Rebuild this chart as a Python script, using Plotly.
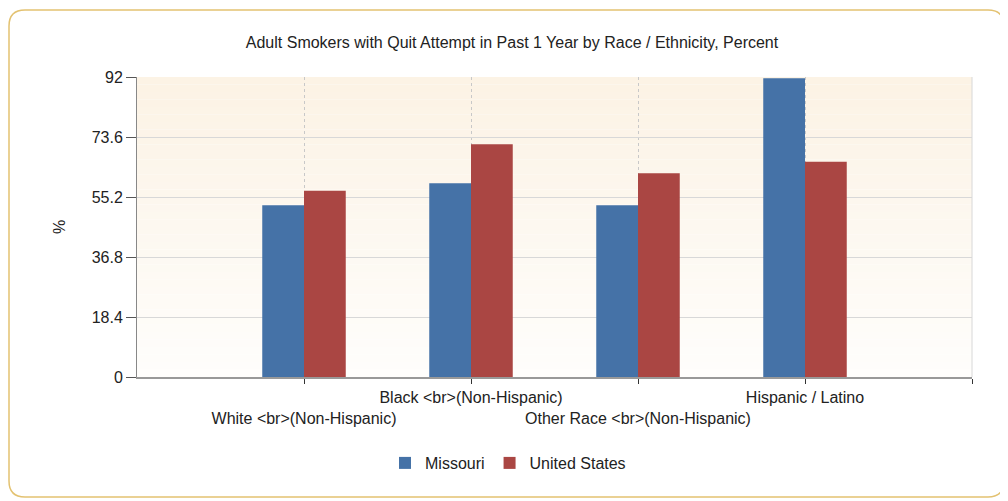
import plotly.graph_objects as go
import numpy as np

categories = ["White &lt;br&gt;(Non-Hispanic)", "Black &lt;br&gt;(Non-Hispanic)",
              "Other Race &lt;br&gt;(Non-Hispanic)", "Hispanic / Latino"]
missouri = [52.7, 59.4, 52.7, 91.6]
united_states = [57.1, 71.4, 62.5, 66.0]
y_ticks = [0, 18.4, 36.8, 55.2, 73.6, 92]
y_ticktext = ["0", "18.4", "36.8", "55.2", "73.6", "92"]

# the page body has an 8px margin, so the figure starts at (8, 8) on screen
OFF = 8
W, H = 1008 - OFF, 501 - OFF
L, R, T, B = 137 - OFF, 36, 77 - OFF, 124
pw, ph = W - L - R, H - T - B

xpos = list(np.arange(1, len(categories) + 1))
# stagger labels: first and third lower
ticktext = [("<br>" + c) if i % 2 == 0 else c for i, c in enumerate(categories)] + [""]
tickvals = xpos + [len(categories) + 1]

fig = go.Figure()
fig.add_trace(go.Bar(x=xpos, y=missouri, name="Missouri", marker_color="#4572A7",
                     marker_line_width=0))
fig.add_trace(go.Bar(x=xpos, y=united_states, name="United States", marker_color="#AA4643",
                     marker_line_width=0))

shapes = []
# gradient plot background
n = 40
top = np.array([252, 243, 229])
bot = np.array([255, 254, 252])
for i in range(n):
    f = i / (n - 1)
    c = top * (1 - f) + bot * f
    shapes.append(dict(type="rect", xref="x domain", yref="y domain",
                       x0=0, x1=1, y0=1 - (i + 1) / n, y1=1 - i / n,
                       fillcolor="rgb(%d,%d,%d)" % tuple(c.astype(int)),
                       line_width=0, layer="below"))

# rounded border (screen pixel -> paper)
def px(x):
    return (x - OFF - L) / pw

def py(y):
    return (H - B - (y - OFF)) / ph

x0, y0, x1, y1, r = 9, 10, 1004, 497, 16
path = (f"M {px(x0 + r)} {py(y0)} L {px(x1 - r)} {py(y0)} "
        f"Q {px(x1)} {py(y0)} {px(x1)} {py(y0 + r)} "
        f"L {px(x1)} {py(y1 - r)} Q {px(x1)} {py(y1)} {px(x1 - r)} {py(y1)} "
        f"L {px(x0 + r)} {py(y1)} Q {px(x0)} {py(y1)} {px(x0)} {py(y1 - r)} "
        f"L {px(x0)} {py(y0 + r)} Q {px(x0)} {py(y0)} {px(x0 + r)} {py(y0)} Z")
shapes.append(dict(type="path", xref="paper", yref="paper", path=path,
                   line=dict(color="#E3C271", width=1.5), layer="below"))

fig.update_layout(
    width=W, height=H,
    margin=dict(l=L, r=R, t=T, b=B, autoexpand=False),
    paper_bgcolor="white",
    plot_bgcolor="rgba(0,0,0,0)",
    barmode="group", bargap=0.5, bargroupgap=0,
    shapes=shapes,
    font=dict(family="Liberation Sans, Arial, sans-serif", color="#222222"),
    title=dict(text="Adult Smokers with Quit Attempt in Past 1 Year by Race / Ethnicity, Percent",
               x=(512 - OFF) / W, xref="container", xanchor="center",
               y=1 - (42 - OFF) / H, yref="container", yanchor="middle",
               font=dict(size=16, color="#222222")),
    xaxis=dict(range=[0, len(categories) + 1], tickvals=tickvals, ticktext=ticktext,
               tickangle=0, automargin=False,
               showgrid=True, gridcolor="#C8C8C8", griddash="dot", gridwidth=1,
               ticks="outside", ticklen=5, tickcolor="#333333",
               showline=True, linecolor="#999999", linewidth=1.5,
               tickfont=dict(size=16, color="#222222"), zeroline=False, fixedrange=True),
    yaxis=dict(range=[0, 92], tickvals=y_ticks, ticktext=y_ticktext, automargin=False,
               showgrid=True, gridcolor="#D8D8D8", gridwidth=1,
               ticks="outside", ticklen=10, tickcolor="#555555",
               showline=True, linecolor="#888888", linewidth=1,
               tickfont=dict(size=16, color="#222222"), zeroline=False,
               title=dict(text="%", font=dict(size=16, color="#222222"), standoff=22),
               mirror=False, fixedrange=True),
    legend=dict(orientation="h", x=(508 - OFF - L) / pw, xanchor="center",
                y=py(463), yanchor="middle", font=dict(size=16, color="#222222"),
                bgcolor="rgba(0,0,0,0)"),
    showlegend=True,
)
# right edge line
fig.add_shape(type="line", xref="x domain", yref="y domain", x0=1, x1=1, y0=0, y1=1,
              line=dict(color="#D8D8D8", width=1), layer="below")

fig.write_html("out.html")
